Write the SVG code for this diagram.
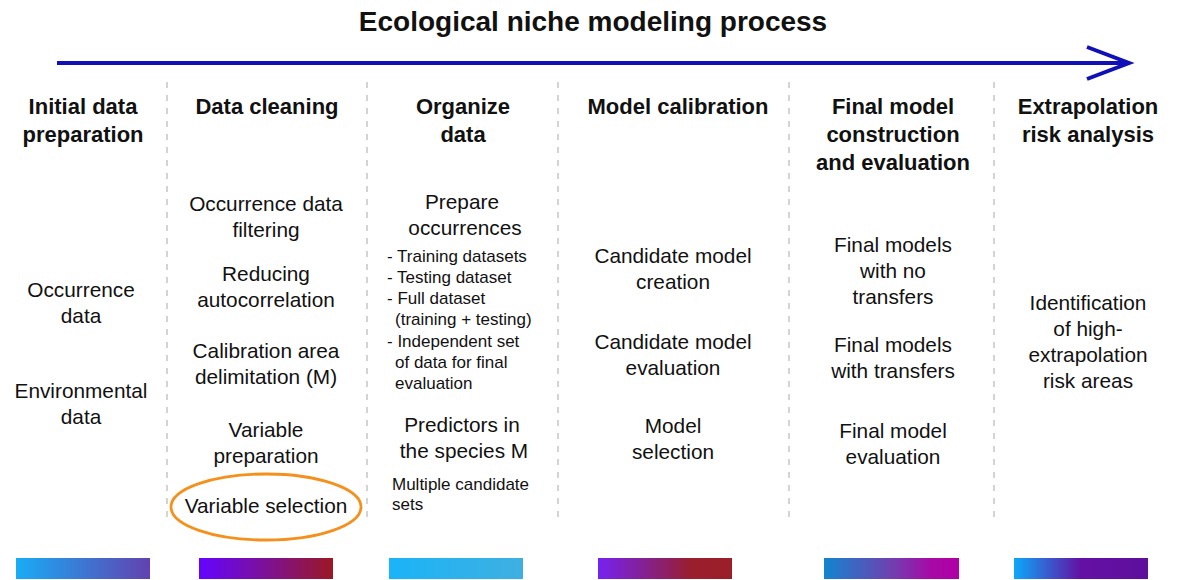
<svg xmlns="http://www.w3.org/2000/svg" width="1178" height="580" viewBox="0 0 1178 580">
  <defs>
    <style>
      text { font-family: "Liberation Sans", Arial, sans-serif; fill: #111; text-anchor: middle; }
      .title { font-size: 28px; font-weight: bold; }
      .head { font-size: 22px; font-weight: bold; }
      .body { font-size: 20.8px; }
      .small { font-size: 17px; text-anchor: start; }
      .sep { stroke: #bdbdbd; stroke-width: 1.3; stroke-dasharray: 6 7; fill: none; }
      .flow { stroke: #1010b8; stroke-width: 4; fill: none; }
      .bar { stroke: none; }
    </style>
    <linearGradient id="g1" x1="0" x2="1" y1="0" y2="0">
      <stop offset="0" stop-color="#18acf5"/>
      <stop offset="1" stop-color="#6242b0"/>
    </linearGradient>
    <linearGradient id="g2" x1="0" x2="1" y1="0" y2="0">
      <stop offset="0" stop-color="#6404ff"/>
      <stop offset="0.45" stop-color="#7a10a0"/>
      <stop offset="1" stop-color="#9b1824"/>
    </linearGradient>
    <linearGradient id="g3" x1="0" x2="1" y1="0" y2="0">
      <stop offset="0" stop-color="#1ab4f8"/>
      <stop offset="1" stop-color="#3fafe0"/>
    </linearGradient>
    <linearGradient id="g4" x1="0" x2="1" y1="0" y2="0">
      <stop offset="0" stop-color="#7622f2"/>
      <stop offset="0.45" stop-color="#8a2074"/>
      <stop offset="0.7" stop-color="#9a1e2c"/>
      <stop offset="1" stop-color="#9a1f2a"/>
    </linearGradient>
    <linearGradient id="g5" x1="0" x2="1" y1="0" y2="0">
      <stop offset="0" stop-color="#1285d0"/>
      <stop offset="0.5" stop-color="#7040b0"/>
      <stop offset="0.8" stop-color="#a808a6"/>
      <stop offset="1" stop-color="#b000a6"/>
    </linearGradient>
    <linearGradient id="g6" x1="0" x2="1" y1="0" y2="0">
      <stop offset="0" stop-color="#0ca8fa"/>
      <stop offset="0.5" stop-color="#6410a4"/>
      <stop offset="1" stop-color="#5e0f9c"/>
    </linearGradient>
  </defs>

  <rect width="1178" height="580" fill="#ffffff"/>

  <!-- heading -->
  <text class="title" x="593" y="31">Ecological niche modeling process</text>

  <!-- process direction arrow and column separators -->
  <g id="connectors">
    <line class="flow" x1="57" y1="63" x2="1128" y2="63"/>
    <polyline class="flow" points="1087,47 1129,63 1087,79" stroke-linejoin="miter"/>
    <line class="sep" x1="167" y1="82" x2="167" y2="520"/>
    <line class="sep" x1="367" y1="82" x2="367" y2="520"/>
    <line class="sep" x1="558" y1="82" x2="558" y2="520"/>
    <line class="sep" x1="789" y1="82" x2="789" y2="520"/>
    <line class="sep" x1="994" y1="82" x2="994" y2="520"/>
  </g>

  <!-- stage 1 -->
  <g id="initial-data-preparation">
    <text class="head" x="83" y="114">Initial data</text>
    <text class="head" x="83" y="142">preparation</text>
    <text class="body" x="81" y="297">Occurrence</text>
    <text class="body" x="81" y="323">data</text>
    <text class="body" x="81" y="398">Environmental</text>
    <text class="body" x="81" y="424">data</text>
    <rect class="bar" x="16" y="558" width="134" height="21" fill="url(#g1)"/>
  </g>

  <!-- stage 2 -->
  <g id="data-cleaning">
    <text class="head" x="267" y="114">Data cleaning</text>
    <text class="body" x="266" y="211">Occurrence data</text>
    <text class="body" x="266" y="237">filtering</text>
    <text class="body" x="266" y="281">Reducing</text>
    <text class="body" x="266" y="307">autocorrelation</text>
    <text class="body" x="266" y="358">Calibration area</text>
    <text class="body" x="266" y="384">delimitation (M)</text>
    <text class="body" x="266" y="437">Variable</text>
    <text class="body" x="266" y="463">preparation</text>
    <text class="body" x="266" y="513">Variable selection</text>
    <ellipse cx="266" cy="507" rx="95" ry="33" fill="none" stroke="#f5901c" stroke-width="2.8"/>
    <rect class="bar" x="199" y="558" width="134" height="21" fill="url(#g2)"/>
  </g>

  <!-- stage 3 -->
  <g id="organize-data">
    <text class="head" x="463" y="114">Organize</text>
    <text class="head" x="463" y="142">data</text>
    <text class="body" x="462" y="209">Prepare</text>
    <text class="body" x="465" y="235">occurrences</text>
    <text class="small" x="387" y="262">- Training datasets</text>
    <text class="small" x="387" y="283">- Testing dataset</text>
    <text class="small" x="387" y="304">- Full dataset</text>
    <text class="small" x="395" y="325">(training + testing)</text>
    <text class="small" x="387" y="347">- Independent set</text>
    <text class="small" x="395" y="368">of data for final</text>
    <text class="small" x="395" y="389">evaluation</text>
    <text class="body" x="462" y="432">Predictors in</text>
    <text class="body" x="464" y="458">the species M</text>
    <text class="small" x="392" y="490">Multiple candidate</text>
    <text class="small" x="392" y="510">sets</text>
    <rect class="bar" x="389" y="558" width="134" height="21" fill="url(#g3)"/>
  </g>

  <!-- stage 4 -->
  <g id="model-calibration">
    <text class="head" x="678" y="114">Model calibration</text>
    <text class="body" x="673" y="263">Candidate model</text>
    <text class="body" x="673" y="289">creation</text>
    <text class="body" x="673" y="349">Candidate model</text>
    <text class="body" x="673" y="375">evaluation</text>
    <text class="body" x="673" y="433">Model</text>
    <text class="body" x="673" y="459">selection</text>
    <rect class="bar" x="598" y="558" width="134" height="21" fill="url(#g4)"/>
  </g>

  <!-- stage 5 -->
  <g id="final-model-construction">
    <text class="head" x="893" y="114">Final model</text>
    <text class="head" x="893" y="142">construction</text>
    <text class="head" x="893" y="170">and evaluation</text>
    <text class="body" x="893" y="252">Final models</text>
    <text class="body" x="893" y="278">with no</text>
    <text class="body" x="893" y="304">transfers</text>
    <text class="body" x="893" y="352">Final models</text>
    <text class="body" x="893" y="378">with transfers</text>
    <text class="body" x="893" y="438">Final model</text>
    <text class="body" x="893" y="464">evaluation</text>
    <rect class="bar" x="824" y="558" width="135" height="21" fill="url(#g5)"/>
  </g>

  <!-- stage 6 -->
  <g id="extrapolation-risk-analysis">
    <text class="head" x="1088" y="114">Extrapolation</text>
    <text class="head" x="1088" y="142">risk analysis</text>
    <text class="body" x="1088" y="310">Identification</text>
    <text class="body" x="1088" y="336">of high-</text>
    <text class="body" x="1088" y="362">extrapolation</text>
    <text class="body" x="1088" y="388">risk areas</text>
    <rect class="bar" x="1014" y="558" width="134" height="21" fill="url(#g6)"/>
  </g>
</svg>
